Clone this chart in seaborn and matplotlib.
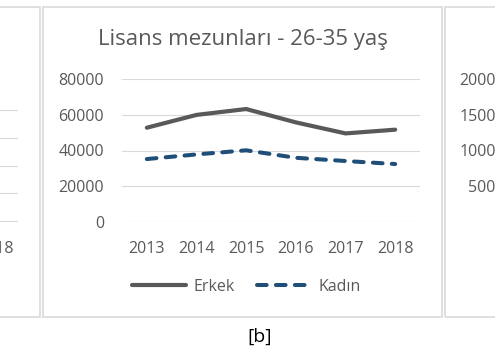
import matplotlib
matplotlib.use("Agg")
import matplotlib.pyplot as plt
from matplotlib.patches import Rectangle
from matplotlib.lines import Line2D
import seaborn as sns
import pandas as pd

# data
years = ["2013", "2014", "2015", "2016", "2017", "2018"]
erkek = [52800, 60000, 63300, 55800, 49600, 51700]
kadin = [35200, 37800, 40100, 35900, 34100, 32400]
title = "Lisans mezunları - 26-35 yaş"
y_ticks = [0, 20000, 40000, 60000, 80000]
right_ticks = [0, 5000, 10000, 15000, 20000]

sns.set_theme(style="white")
plt.rcParams["font.family"] = ["Open Sans", "DejaVu Sans"]

W, H = 495, 352
GRAY = "#595959"
BLUE = "#1f4e79"
GRID = "#d9d9d9"
DASH = (0, (2.4, 2.3))


def fr(x0, y_top, x1, y_bot):
    # pixel box (top-left origin) -> figure fraction rect
    return [x0 / W, 1 - y_bot / H, (x1 - x0) / W, (y_bot - y_top) / H]


fig = plt.figure(figsize=(W / 100, H / 100), dpi=100)
fig.patch.set_facecolor("white")

# panel borders (main + neighbours cut by the crop)
for x0, x1 in [(43, 442), (-200, 40), (445, 700)]:
    fig.patches.append(Rectangle((x0 / W, 1 - 317 / H), (x1 - x0) / W, 310 / H,
                                 transform=fig.transFigure, fill=False,
                                 edgecolor=GRID, lw=1.2))

df = pd.DataFrame({"year": years, "Erkek": erkek, "Kadın": kadin})

ax = fig.add_axes(fr(122, 79.3, 420, 221.7))
sns.lineplot(data=df, x="year", y="Erkek", ax=ax, color=GRAY, lw=3.0,
             solid_capstyle="round")
sns.lineplot(data=df, x="year", y="Kadın", ax=ax, color=BLUE, lw=2.9,
             linestyle=DASH, dash_capstyle="round")
ax.set_xlim(-0.5, 5.5)
ax.set_ylim(0, 80000)
ax.set_yticks(y_ticks)
ax.set_xlabel("")
ax.set_ylabel("")
ax.grid(axis="y", color=GRID, lw=0.8)
ax.set_axisbelow(True)
sns.despine(ax=ax, left=True, bottom=True)
ax.tick_params(length=0, labelsize=11.5, labelcolor=GRAY)
ax.tick_params(axis="y", pad=13)
ax.tick_params(axis="x", pad=14)

fig.text(243 / W, 1 - 40 / H, title, ha="center", va="center",
         fontsize=16, color=GRAY)

handles = [
    Line2D([], [], color=GRAY, lw=3.0, solid_capstyle="round"),
    Line2D([], [], color=BLUE, lw=2.9, linestyle=DASH, dash_capstyle="round"),
]
fig.legend(handles, ["Erkek", "Kadın"], loc="center",
           bbox_to_anchor=(246 / W, 1 - 287 / H), ncol=2, frameon=False,
           fontsize=11.5, labelcolor=GRAY, handlelength=3.4,
           handletextpad=0.45, columnspacing=1.4)

fig.text(260 / W, 1 - 337 / H, "[b]", ha="center", va="center",
         fontsize=14, color="black")

# left neighbour chart (only its right edge is visible)
axl = fig.add_axes(fr(-252, 109, 18, 222))
axl.set_xlim(-0.5, 5.5)
axl.set_ylim(-0.02, 4.02)
axl.set_yticks(range(5))
axl.set_yticklabels([])
axl.set_xticks(range(6))
axl.set_xticklabels(years)
axl.grid(axis="y", color=GRID, lw=0.8)
sns.despine(ax=axl, left=True, bottom=True)
axl.tick_params(length=0, labelsize=11.5, labelcolor=GRAY, pad=14)
axl.patch.set_alpha(0)

# right neighbour chart (only its y labels are visible)
axr = fig.add_axes(fr(523, 79.3, 800, 221.7))
axr.set_ylim(0, 20000)
axr.set_yticks(right_ticks)
axr.set_xticks([])
sns.despine(ax=axr, left=True, bottom=True)
axr.tick_params(length=0, labelsize=11.5, labelcolor=GRAY, pad=13)
axr.patch.set_alpha(0)

fig.savefig("out.png", dpi=100)
